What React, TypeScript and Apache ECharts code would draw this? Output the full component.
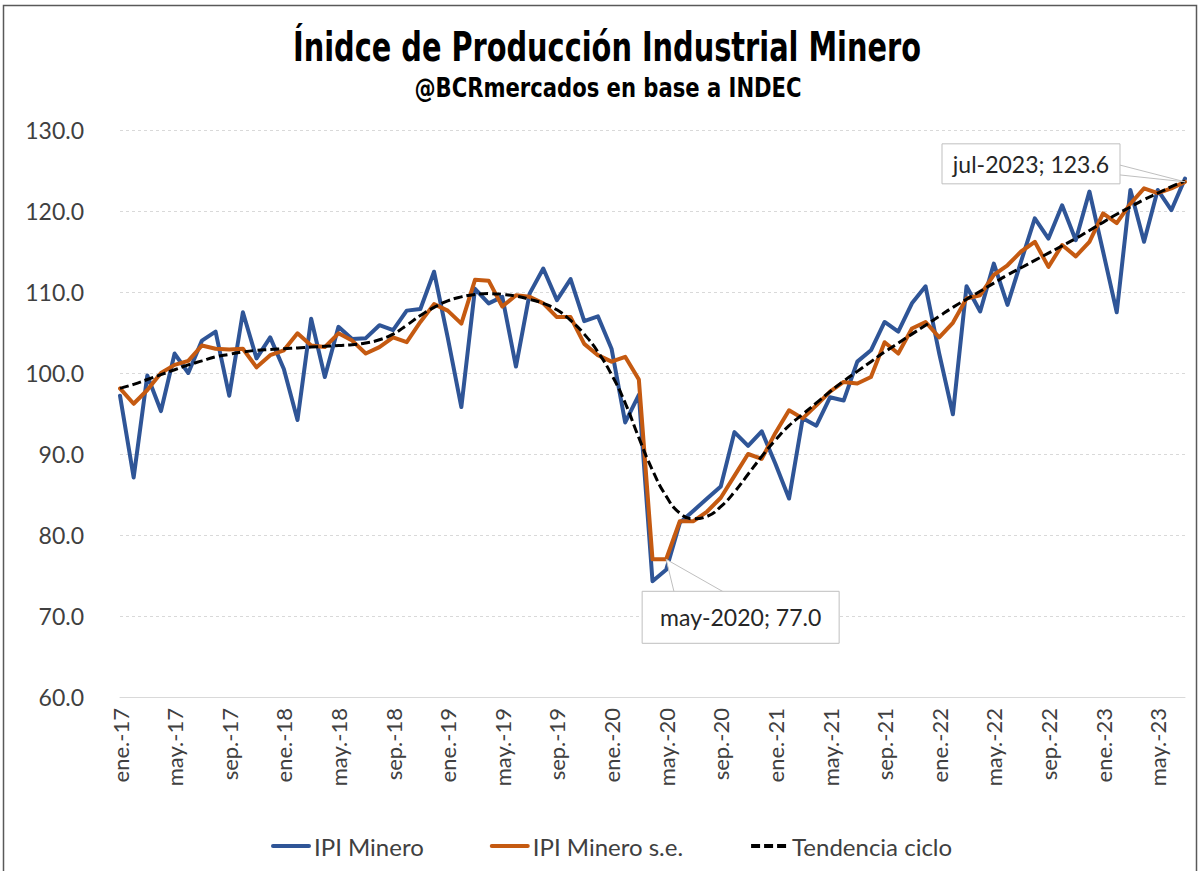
import React, { useEffect, useRef } from "react";
import * as echarts from "echarts";

const MONTHS = ["ene.", "feb.", "mar.", "abr.", "may.", "jun.", "jul.", "ago.", "sep.", "oct.", "nov.", "dic."];
const YEARS = ["17", "18", "19", "20", "21", "22", "23"];
const N_MONTHS = 79;

const IPI_MINERO = [
  97.2, 87.1, 99.7, 95.3, 102.4, 100.0, 104.0, 105.1, 97.2, 107.5, 101.8, 104.4,
  100.5, 94.2, 106.7, 99.5, 105.7, 104.2, 104.3, 105.9, 105.3, 107.7, 107.9, 112.5,
  104.4, 95.8, 110.4, 108.6, 109.4, 100.8, 109.8, 112.9, 109.0, 111.6, 106.4, 107.0,
  103.0, 93.9, 97.3, 74.3, 75.7, 81.5, 83.0, 84.5, 86.0, 92.7, 91.0, 92.8,
  88.8, 84.5, 94.4, 93.5, 97.0, 96.6, 101.4, 102.8, 106.3, 105.1, 108.6, 110.7,
  102.4, 94.9, 110.7, 107.6, 113.5, 108.4, 113.8, 119.1, 116.6, 120.7, 116.4, 122.4,
  115.0, 107.5, 122.6, 116.2, 122.6, 120.1, 124.0,
];

const IPI_MINERO_SE = [
  98.1, 96.2, 97.9, 100.0, 101.0, 101.5, 103.4, 103.0, 102.9, 103.0, 100.7, 102.2,
  102.8, 104.9, 103.4, 103.2, 104.9, 104.0, 102.4, 103.2, 104.4, 103.8, 106.3, 108.5,
  107.7, 106.1, 111.5, 111.4, 108.2, 109.6, 109.4, 108.6, 106.9, 106.9, 103.6, 102.2,
  101.4, 102.0, 99.2, 77.0, 77.0, 81.7, 81.7, 82.9, 84.6, 87.3, 90.0, 89.4,
  92.6, 95.4, 94.4, 96.0, 97.7, 98.9, 98.7, 99.5, 103.8, 102.4, 105.5, 106.3,
  104.4, 106.2, 109.2, 109.6, 112.1, 113.3, 115.0, 116.2, 113.1, 115.8, 114.4, 116.2,
  119.7, 118.5, 120.9, 122.8, 122.2, 122.8, 123.6,
];

const TENDENCIA = [
  98.1, 98.6, 99.2, 99.8, 100.4, 101.0, 101.5, 102.0, 102.3, 102.6, 102.8, 102.9,
  103.0, 103.1, 103.2, 103.3, 103.4, 103.5, 103.7, 104.1, 104.8, 105.9, 107.1, 108.1,
  108.9, 109.4, 109.7, 109.8, 109.7, 109.5, 109.1, 108.6, 107.8, 106.5, 104.8, 102.6,
  99.8, 96.3, 92.0, 88.0, 84.8, 82.7, 82.0, 82.3, 83.5, 85.3, 87.5, 89.7,
  91.7, 93.5, 94.9, 96.3, 97.7, 99.0, 100.2, 101.4, 102.6, 103.7, 104.8, 105.9,
  107.0, 108.1, 109.1, 110.1, 111.1, 112.1, 113.0, 113.9, 114.8, 115.7, 116.6, 117.6,
  118.6, 119.6, 120.5, 121.4, 122.2, 123.0, 123.7,
];

const SERIES_NAMES = ["IPI Minero", "IPI Minero s.e.", "Tendencia ciclo"];
const Y_MIN = 60;
const Y_MAX = 130;
const Y_STEP = 10;

const TITLE = "Ínidce de Producción Industrial Minero";
const SUBTITLE = "@BCRmercados en base a INDEC";

const ANNOTATIONS = [
  { index: 40, text: "may-2020; 77.0" },
  { index: 78, text: "jul-2023; 123.6" },
];

const categories: string[] = [];
for (let i = 0; i < N_MONTHS; i++) {
  categories.push(`${MONTHS[i % 12]}-${YEARS[Math.floor(i / 12)]}`);
}

const BODY_FONT = "Lato, 'Open Sans', 'Noto Sans', sans-serif";
const TITLE_FONT = "'Liberation Sans Narrow', 'DejaVu Sans Condensed', 'Liberation Sans', sans-serif";

export default function App() {
  const ref = useRef<HTMLDivElement>(null);

  useEffect(() => {
    if (!ref.current) return;
    const chart = echarts.init(ref.current, undefined, { renderer: "svg" });

    chart.setOption({
      animation: false,
      backgroundColor: "#ffffff",
      grid: { left: 120, right: 16, top: 130, bottom: 174, containLabel: false },
      legend: {
        left: 266,
        top: 829,
        itemWidth: 36,
        itemHeight: 14,
        itemGap: 66,
        itemStyle: { opacity: 0 },
        lineStyle: { width: 4 },
        textStyle: { fontSize: 24, color: "#404040", fontFamily: BODY_FONT },
        data: SERIES_NAMES,
      },
      xAxis: {
        type: "category",
        data: categories,
        boundaryGap: false,
        axisLine: { show: true, lineStyle: { color: "#d9d9d9", width: 1 } },
        axisTick: { show: false },
        axisLabel: {
          interval: 3,
          rotate: 90,
          margin: 11,
          fontSize: 22,
          color: "#404040",
          fontFamily: BODY_FONT,
        },
        splitLine: { show: false },
      },
      yAxis: {
        type: "value",
        min: Y_MIN,
        max: Y_MAX,
        interval: Y_STEP,
        axisLine: { show: false },
        axisTick: { show: false },
        axisLabel: {
          formatter: (v: number) => v.toFixed(1),
          fontSize: 23,
          color: "#404040",
          margin: 36,
          fontFamily: BODY_FONT,
        },
        splitLine: { lineStyle: { color: "#d9d9d9", width: 1, type: [3, 3] } },
      },
      series: [
        {
          name: SERIES_NAMES[0],
          type: "line",
          data: IPI_MINERO,
          symbol: "none",
          color: "#2F5597",
          lineStyle: { width: 4, color: "#2F5597", join: "round", cap: "round" },
          z: 2,
        },
        {
          name: SERIES_NAMES[1],
          type: "line",
          data: IPI_MINERO_SE,
          symbol: "none",
          color: "#C55A11",
          lineStyle: { width: 4, color: "#C55A11", join: "round", cap: "round" },
          z: 3,
        },
        {
          name: SERIES_NAMES[2],
          type: "line",
          data: TENDENCIA,
          symbol: "none",
          smooth: true,
          color: "#000000",
          lineStyle: { width: 3, color: "#000000", type: [9, 4] },
          z: 4,
        },
      ],
    });

    const pts = ANNOTATIONS.map((a) =>
      chart.convertToPixel({ gridIndex: 0 }, [a.index, IPI_MINERO_SE[a.index]]) as number[]
    );

    const graphics: any[] = [
      {
        type: "rect",
        silent: true,
        z: 0,
        shape: { x: 3.5, y: 5.5, width: 1193, height: 900 },
        style: { fill: "none", stroke: "#595959", lineWidth: 1.5 },
      },
      {
        type: "text",
        x: 607,
        y: 47,
        scaleX: 0.8,
        z: 100,
        style: {
          text: TITLE,
          fontSize: 40,
          fontWeight: "bold",
          fontFamily: TITLE_FONT,
          fill: "#000000",
          align: "center",
          verticalAlign: "middle",
        },
      },
      {
        type: "text",
        x: 608,
        y: 88,
        scaleX: 0.87,
        z: 100,
        style: {
          text: SUBTITLE,
          fontSize: 27,
          fontWeight: "bold",
          fontFamily: TITLE_FONT,
          fill: "#000000",
          align: "center",
          verticalAlign: "middle",
        },
      },
    ];

    // may-2020 callout (box below-right of point)
    {
      const [px, py] = pts[0];
      const bx = px - 24, by = py + 32, bw = 197, bh = 52;
      graphics.push(
        {
          type: "polygon",
          z: 100,
          shape: { points: [[px + 8, by + 1], [px, py], [px + 58, by + 1]] },
          style: { fill: "#ffffff", stroke: "#bfbfbf", lineWidth: 1 },
        },
        {
          type: "rect",
          z: 100,
          shape: { x: bx, y: by, width: bw, height: bh },
          style: { fill: "#ffffff", stroke: "#bfbfbf", lineWidth: 1 },
        },
        {
          type: "text",
          z: 101,
          x: bx + bw / 2,
          y: by + bh / 2,
          style: {
            text: ANNOTATIONS[0].text,
            fontSize: 23,
            fontFamily: BODY_FONT,
            fill: "#262626",
            align: "center",
            verticalAlign: "middle",
          },
        }
      );
    }

    // jul-2023 callout (box to the left of point)
    {
      const [px, py] = pts[1];
      const bw = 178, bh = 40;
      const bx = px - 65 - bw, by = py - 38;
      graphics.push(
        {
          type: "polygon",
          z: 100,
          shape: { points: [[bx + bw - 1, by + 21], [px, py], [bx + bw - 1, by + 31]] },
          style: { fill: "#ffffff", stroke: "#bfbfbf", lineWidth: 1 },
        },
        {
          type: "rect",
          z: 100,
          shape: { x: bx, y: by, width: bw, height: bh },
          style: { fill: "#ffffff", stroke: "#bfbfbf", lineWidth: 1 },
        },
        {
          type: "text",
          z: 101,
          x: bx + bw / 2,
          y: by + bh / 2,
          style: {
            text: ANNOTATIONS[1].text,
            fontSize: 23,
            fontFamily: BODY_FONT,
            fill: "#262626",
            align: "center",
            verticalAlign: "middle",
          },
        }
      );
    }

    chart.setOption({ graphic: graphics });

    return () => {
      chart.dispose();
    };
  }, []);

  return (
    <div
      ref={ref}
      style={{ position: "fixed", left: 0, top: 0, width: 1201, height: 871 }}
    />
  );
}
